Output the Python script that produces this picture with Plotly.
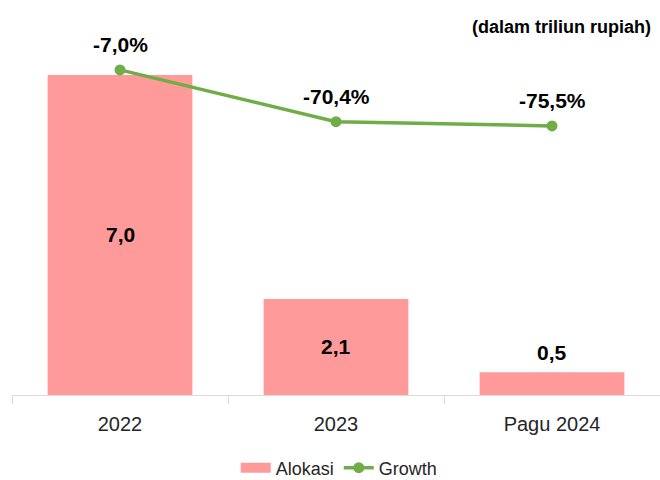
import plotly.graph_objects as go

categories = ["2022", "2023", "Pagu 2024"]
alokasi = [7.0, 2.1, 0.5]
growth = [-7.0, -70.4, -75.5]

FONT = "Liberation Sans, Arial, sans-serif"
BAR_COLOR = "#ff9a9a"
LINE_COLOR = "#70ad47"

def fmt(v, pct=False):
    s = f"{v:.1f}".replace(".", ",")
    return s + ("%" if pct else "")

fig = go.Figure()
fig.add_trace(go.Bar(
    x=categories, y=alokasi, name="Alokasi", showlegend=False,
    marker=dict(color=BAR_COLOR, line=dict(width=0)),
    width=0.67,
))
# legend sample for the bars (wide rectangle like the reference)
fig.add_trace(go.Scatter(
    x=[None], y=[None], name="Alokasi", mode="lines",
    line=dict(color=BAR_COLOR, width=13),
))
fig.add_trace(go.Scatter(
    x=categories, y=growth, name="Growth", yaxis="y2",
    mode="lines+markers",
    line=dict(color=LINE_COLOR, width=3.5),
    marker=dict(color=LINE_COLOR, size=11),
))

annotations = []
for i, v in enumerate(alokasi):
    inside = v > 1
    annotations.append(dict(
        x=i, y=v / 2 if inside else v, xref="x", yref="y",
        text=f"<b>{fmt(v)}</b>", showarrow=False,
        yshift=0 if inside else 20,
        font=dict(family=FONT, size=21, color="#000000"),
    ))
for i, g in enumerate(growth):
    annotations.append(dict(
        x=i, y=g, xref="x", yref="y2",
        text=f"<b>{fmt(g, True)}</b>", showarrow=False, yshift=25,
        font=dict(family=FONT, size=21, color="#000000"),
    ))
annotations.append(dict(
    x=(653 - 12) / 648, y=0.981, xref="paper", yref="paper",
    xanchor="right", yanchor="middle",
    text="<b>(dalam triliun rupiah)</b>", showarrow=False,
    font=dict(family=FONT, size=18, color="#000000"),
))

fig.update_layout(
    width=660, height=480,
    margin=dict(l=12, r=0, t=20, b=85, autoexpand=False),
    plot_bgcolor="white", paper_bgcolor="white",
    font=dict(family=FONT, size=18, color="#262626"),
    bargap=0.33,
    xaxis=dict(
        type="category", range=[-0.5, len(categories) - 0.5], autorange=False,
        showline=True, linecolor="#d9d9d9", linewidth=1,
        ticks="outside", tickson="boundaries", ticklen=8, tickcolor="#d9d9d9",
        ticklabelstandoff=11,
        showgrid=False, tickfont=dict(size=20, color="#262626"),
    ),
    yaxis=dict(range=[0, 8.2], visible=False, showgrid=False),
    yaxis2=dict(range=[-404.6, 54], overlaying="y", side="right", visible=False, showgrid=False),
    showlegend=True,
    legend=dict(
        orientation="h", x=0.505, xanchor="center",
        yref="container", y=(480 - 468) / 480, yanchor="middle",
        font=dict(size=18, color="#262626"),
    ),
    annotations=annotations,
)

fig.write_html("out.html")
